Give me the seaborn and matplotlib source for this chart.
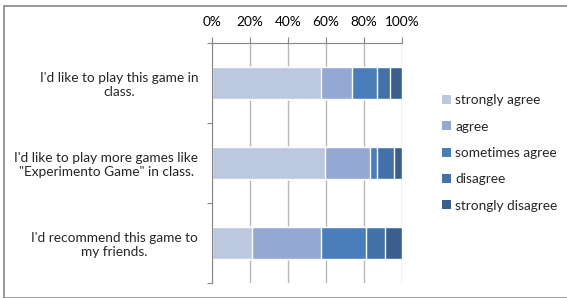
import numpy as np
import pandas as pd
import seaborn as sns
import matplotlib.pyplot as plt
from matplotlib.patches import Patch, Rectangle

questions = [
    "I'd like to play this game in\nclass.",
    "I'd like to play more games like\n\"Experimento Game\" in class.",
    "I'd recommend this game to\nmy friends.",
]
responses = ["strongly agree", "agree", "sometimes agree", "disagree", "strongly disagree"]
strongly_agree = [57.4, 59.5, 21.3]
agree = [16.5, 23.4, 36.1]
sometimes_agree = [12.9, 3.9, 23.4]
disagree = [6.7, 9.1, 10.4]
strongly_disagree = [6.5, 4.1, 8.8]
colors = ["#bcc7e0", "#93a9d1", "#4a7ebb", "#4272a8", "#3a5e8e"]

df = pd.DataFrame(
    {
        "question": questions,
        "strongly agree": strongly_agree,
        "agree": agree,
        "sometimes agree": sometimes_agree,
        "disagree": disagree,
        "strongly disagree": strongly_disagree,
    }
)
# normalize rows to 100% and build cumulative sums for stacking
vals = df[responses]
vals = vals.div(vals.sum(axis=1), axis=0) * 100
cum = vals.cumsum(axis=1)
cum["question"] = df["question"]

sns.set_style("white")
plt.rcParams["font.family"] = ["Lato", "DejaVu Sans"]

fig = plt.figure(figsize=(5.67, 2.98), dpi=100)
ax = fig.add_axes([212 / 567, 1 - 282.7 / 298, 190 / 567, 240 / 298])

# draw from the longest cumulative bar down so the segments stack
for resp, col in zip(responses[::-1], colors[::-1]):
    sns.barplot(data=cum, x=resp, y="question", color=col, width=0.4,
                saturation=1, orient="h", ax=ax, zorder=3)

ax.set_xlim(0, 100)
ax.set_ylim(2.5, -0.5)
ax.set_xlabel("")
ax.set_ylabel("")
ax.set_xticks(np.arange(0, 101, 20))
ax.set_xticklabels([f"{v}%" for v in range(0, 101, 20)])
ax.xaxis.tick_top()
ax.tick_params(axis="x", top=True, direction="out", length=4.3, width=0.8,
               color="#868686", pad=6, labelsize=9.8, labelcolor="#000000")
ax.grid(axis="x", color="#b8b8b8", linewidth=1, zorder=0)
ax.set_axisbelow(True)

ax.tick_params(axis="y", which="major", length=0, pad=10, labelsize=9.8)
for lbl in ax.get_yticklabels():
    lbl.set_multialignment("center")
ax.set_yticks([-0.5, 0.5, 1.5, 2.5], minor=True)
ax.tick_params(axis="y", which="minor", left=True, length=3.5, width=0.8, color="#868686")

for side in ["right", "bottom"]:
    ax.spines[side].set_visible(False)
for side in ["left", "top"]:
    ax.spines[side].set_color("#868686")
    ax.spines[side].set_linewidth(0.8)
    ax.spines[side].set_zorder(4)

handles = [Patch(facecolor=c, edgecolor="none", label=r) for r, c in zip(responses, colors)]
fig.legend(handles=handles, loc="center left", bbox_to_anchor=(437 / 567, 1 - 153 / 298),
           frameon=False, fontsize=9.8, handlelength=0.65, handleheight=0.65,
           handletextpad=0.3, labelspacing=1.05, borderaxespad=0)

fig.patches.append(Rectangle((4 / 567, 0), 1, 1 - 6 / 298, transform=fig.transFigure,
                             fill=False, edgecolor="#868686", linewidth=1.2))

fig.savefig("out.png", dpi=100)
